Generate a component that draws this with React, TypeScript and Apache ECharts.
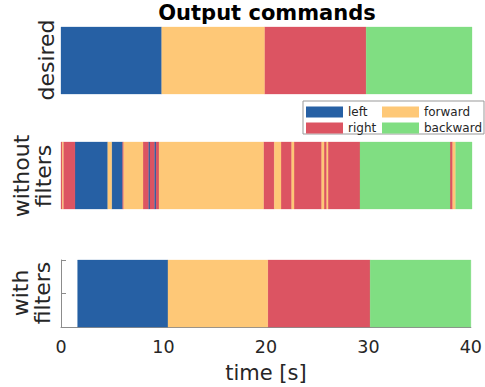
import React, { useEffect, useRef } from "react";
import * as echarts from "echarts";

const commands = ["left", "right", "forward", "backward"];
const commandColors = ["#2660a4", "#dc5462", "#fec877", "#80de82"];

const panelLabels = ["desired", "without\nfilters", "with\nfilters"];
const xTicks = [0, 10, 20, 30, 40];
const axisLabel = "time [s]";
const title = "Output commands";

// [start, end, command]
const desiredSegments: [number, number, string][] = [
  [0, 9.8, "left"],
  [9.8, 19.8, "forward"],
  [19.8, 29.7, "right"],
  [29.7, 40, "backward"],
];

const withoutFilterSegments: [number, number, string][] = [
  [0, 0.13, "right"],
  [0.13, 0.22, "forward"],
  [0.22, 1.36, "right"],
  [1.36, 4.55, "left"],
  [4.55, 4.93, "forward"],
  [4.93, 6.0, "left"],
  [6.0, 6.1, "right"],
  [6.1, 7.98, "forward"],
  [7.98, 8.5, "right"],
  [8.5, 8.66, "left"],
  [8.66, 9.08, "right"],
  [9.08, 9.25, "left"],
  [9.25, 9.54, "right"],
  [9.54, 19.71, "forward"],
  [19.71, 20.76, "right"],
  [20.76, 21.41, "forward"],
  [21.41, 22.45, "right"],
  [22.45, 22.68, "forward"],
  [22.68, 25.37, "right"],
  [25.37, 25.6, "forward"],
  [25.6, 25.86, "right"],
  [25.86, 25.99, "forward"],
  [25.99, 29.1, "right"],
  [29.1, 37.86, "backward"],
  [37.86, 38.12, "right"],
  [38.12, 38.41, "forward"],
  [38.41, 40, "backward"],
];

const withFilterSegments: [number, number, string][] = [
  [1.62, 10.44, "left"],
  [10.44, 20.18, "forward"],
  [20.18, 30.17, "right"],
  [30.17, 40, "backward"],
];

const panels = [desiredSegments, withoutFilterSegments, withFilterSegments];

const FONT = "DejaVu Sans";
const TEXT = "#262626";
const GRID_TOPS = [27, 142, 260];
const GRID_H = 67;
const LABEL_POS = [
  [46, 60],
  [32, 176],
  [31, 293],
];

export default function App() {
  const ref = useRef<HTMLDivElement>(null);
  useEffect(() => {
    if (!ref.current) return;
    const chart = echarts.init(ref.current, null, { renderer: "svg" });

    const grids = GRID_TOPS.map((top) => ({ left: 61, width: 411, top, height: GRID_H }));
    const xAxes = GRID_TOPS.map((_, i) => {
      const last = i === GRID_TOPS.length - 1;
      return {
        type: "value",
        gridIndex: i,
        min: xTicks[0],
        max: xTicks[xTicks.length - 1],
        interval: xTicks[1] - xTicks[0],
        show: last,
        axisLine: { show: true, onZero: false, lineStyle: { color: "#8c8c8c", width: 1 } },
        axisTick: { show: false },
        splitLine: { show: false },
        axisLabel: { fontSize: 17.5, color: TEXT, fontFamily: FONT, margin: 11 },
        name: last ? axisLabel : "",
        nameLocation: "middle",
        nameGap: 35,
        nameTextStyle: { fontSize: 21, color: TEXT, fontFamily: FONT },
      };
    });
    const yAxes = GRID_TOPS.map((_, i) => {
      const last = i === GRID_TOPS.length - 1;
      return {
        type: "value",
        gridIndex: i,
        min: 0,
        max: 1,
        interval: 0.5,
        show: last,
        axisLine: { show: true, onZero: false, lineStyle: { color: "#8c8c8c", width: 1 } },
        axisTick: { show: true, inside: true, length: 5, lineStyle: { color: "#8c8c8c" } },
        axisLabel: { show: false },
        splitLine: { show: false },
      };
    });

    const series: any[] = [];
    panels.forEach((segs, p) => {
      commands.forEach((cmd, c) => {
        const color = commandColors[c];
        series.push({
          type: "custom",
          name: cmd,
          xAxisIndex: p,
          yAxisIndex: p,
          encode: { x: [0, 1], y: 2 },
          itemStyle: { color },
          data: segs.filter((s) => s[2] === cmd).map((s) => [s[0], s[1], 0.5]),
          renderItem: (params: any, api: any) => {
            const s = api.coord([api.value(0), 0]);
            const e = api.coord([api.value(1), 1]);
            return {
              type: "rect",
              shape: { x: s[0], y: e[1], width: e[0] - s[0], height: s[1] - e[1] },
              style: { fill: color, stroke: color, lineWidth: 0.3 },
            };
          },
        });
      });
    });

    const legendCommon = {
      orient: "vertical",
      itemWidth: 37,
      itemHeight: 11,
      itemGap: 4,
      icon: "rect",
      padding: 0,
      textStyle: { fontSize: 12, color: TEXT, fontFamily: FONT },
      selectedMode: false,
    };

    chart.setOption({
      animation: false,
      textStyle: { fontFamily: FONT },
      grid: grids,
      xAxis: xAxes,
      yAxis: yAxes,
      series,
      legend: [
        { ...legendCommon, left: 306, top: 106, data: [commands[0], commands[1]] },
        { ...legendCommon, left: 382, top: 106, data: [commands[2], commands[3]] },
      ],
      graphic: [
        {
          type: "rect",
          z: -1,
          shape: { x: 303, y: 101, width: 181, height: 33 },
          style: { fill: "#ffffff", stroke: "#999999", lineWidth: 1 },
        },
        {
          type: "text",
          x: 267,
          y: 13,
          style: {
            text: title,
            fontSize: 21,
            fontWeight: "bold",
            fill: "#000",
            fontFamily: FONT,
            textAlign: "center",
            textVerticalAlign: "middle",
          },
        },
        ...panelLabels.map((t, i) => ({
          type: "text",
          x: LABEL_POS[i][0],
          y: LABEL_POS[i][1],
          rotation: Math.PI / 2,
          style: {
            text: t,
            fontSize: 22,
            fill: TEXT,
            fontFamily: FONT,
            textAlign: "center",
            textVerticalAlign: "middle",
            lineHeight: 22,
          },
        })),
      ],
    });
    return () => chart.dispose();
  }, []);
  return (
    <div
      ref={ref}
      style={{ position: "fixed", left: 0, top: 0, width: 485, height: 387, background: "#fff" }}
    />
  );
}
